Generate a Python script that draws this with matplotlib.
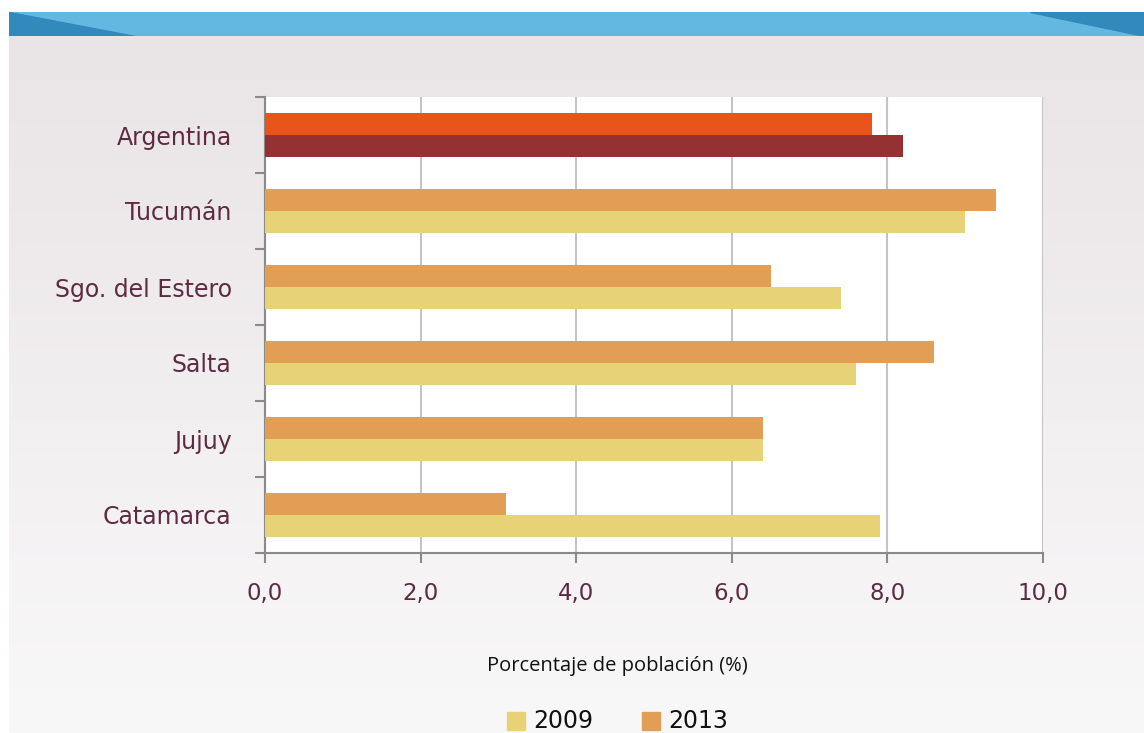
import numpy as np
import matplotlib.pyplot as plt
from matplotlib.patches import Polygon, Rectangle

# Datos
provincias = ['Argentina', 'Tucumán', 'Sgo. del Estero', 'Salta', 'Jujuy', 'Catamarca']
v2009 = [8.2, 9.0, 7.4, 7.6, 6.4, 7.9]
v2013 = [7.8, 9.4, 6.5, 8.6, 6.4, 3.1]
xticks = [0, 2, 4, 6, 8, 10]
xtick_labels = ['0,0', '2,0', '4,0', '6,0', '8,0', '10,0']

c2009 = '#e8d276'
c2013 = '#e39e55'
c2009_arg = '#963133'
c2013_arg = '#e8541a'
texto = '#5e2a42'
fuente = 'DejaVu Sans'

W, H = 1144, 733
fig = plt.figure(figsize=(W / 100, H / 100), dpi=100)
fig.patch.set_facecolor('white')

# fondo con degradado
bg = fig.add_axes([9 / W, 0, 1 - 9 / W, 1 - 36 / H])
grad = np.linspace(0, 1, 256).reshape(-1, 1)
top = np.array([0xe9, 0xe4, 0xe6]) / 255
bot = np.array([0xf9, 0xf8, 0xf9]) / 255
img = top + (bot - top) * grad[..., None]
bg.imshow(img, aspect='auto', extent=[0, 1, 0, 1], origin='upper')
bg.set_axis_off()

# franja azul superior
band = fig.add_axes([9 / W, 1 - 36 / H, 1 - 9 / W, 24 / H])
band.set_xlim(0, 1)
band.set_ylim(0, 1)
band.add_patch(Rectangle((0, 0), 1, 1, color='#63b8e1'))
band.add_patch(Polygon([[0, 1], [0, 0], [126 / 1135, 0]], color='#3189bc'))
band.add_patch(Polygon([[1021 / 1135, 1], [1, 1], [1, 0]], color='#3189bc'))
band.set_axis_off()

ax = fig.add_axes([265 / W, 1 - 553 / H, (1043 - 265) / W, (553 - 97) / H])
ax.set_facecolor('white')

y = np.arange(len(provincias))
h = 0.29
cols13 = [c2013_arg] + [c2013] * (len(provincias) - 1)
cols09 = [c2009_arg] + [c2009] * (len(provincias) - 1)
ax.barh(y - h / 2, v2013, height=h, color=cols13, zorder=3)
ax.barh(y + h / 2, v2009, height=h, color=cols09, zorder=3)

ax.set_xlim(0, 10)
ax.set_ylim(len(provincias) - 0.5, -0.5)

ax.set_xticks(xticks)
ax.set_xticklabels(xtick_labels, fontsize=16.5, color=texto, family=fuente)
ax.tick_params(axis='x', length=7, width=1.5, color='#8a8a8a', pad=14)
ax.grid(axis='x', color='#c4c4c4', linewidth=1.5, zorder=1)

ax.set_yticks(np.arange(len(provincias) + 1) - 0.5)
ax.set_yticklabels([])
ax.tick_params(axis='y', which='major', length=7, width=1.5, color='#8a8a8a')
ax.set_yticks(y, minor=True)
ax.set_yticklabels(provincias, minor=True, fontsize=17, color=texto, family=fuente)
ax.tick_params(axis='y', which='minor', length=0, pad=24)

for s in ['top', 'right']:
    ax.spines[s].set_visible(False)
for s in ['left', 'bottom']:
    ax.spines[s].set_color('#8a8a8a')
    ax.spines[s].set_linewidth(1.5)

fig.text(617 / W, 1 - 666 / H, 'Porcentaje de población (%)', ha='center', va='center',
         fontsize=14.5, color='#111111', family='Open Sans')

# leyenda
for x0, lab, c in [(507, '2009', c2009), (642, '2013', c2013)]:
    fig.patches.append(Rectangle((x0 / W, 1 - 730 / H), 18 / W, 18 / H,
                                 transform=fig.transFigure, color=c))
    fig.text((x0 + 26) / W, 1 - 721 / H, lab, ha='left', va='center',
             fontsize=17, color='#111111', family=fuente)

fig.savefig('out.png', dpi=100, facecolor=fig.get_facecolor())
